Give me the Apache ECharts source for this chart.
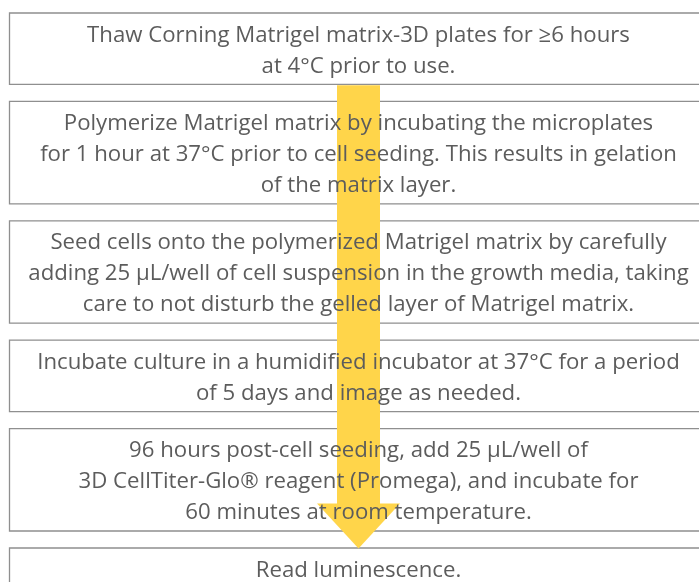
<!DOCTYPE html>
<html>
<head>
<meta charset="utf-8">
<script src="https://cdn.jsdelivr.net/npm/echarts@6/dist/echarts.min.js"></script>
<style>
html,body{margin:0;padding:0;background:#fff;}
#chart{width:699px;height:582px;}
</style>
</head>
<body>
<div id="chart"></div>
<script>
// Step texts of the workflow (one entry per box, lines separated by \n)
const steps = [
  "Thaw Corning Matrigel matrix-3D plates for \u22656 hours\nat 4\u00b0C prior to use.",
  "Polymerize Matrigel matrix by incubating the microplates\nfor 1 hour at 37\u00b0C prior to cell seeding. This results in gelation\nof the matrix layer.",
  "Seed cells onto the polymerized Matrigel matrix by carefully\nadding 25 \u03bcL/well of cell suspension in the growth media, taking\ncare to not disturb the gelled layer of Matrigel matrix.",
  "Incubate culture in a humidified incubator at 37\u00b0C for a period\nof 5 days and image as needed.",
  "96 hours post-cell seeding, add 25 \u03bcL/well of\n3D CellTiter-Glo\u00ae reagent (Promega), and incubate for\n60 minutes at room temperature.",
  "Read luminescence."
];

// layout constants
const W = 699, H = 582;
const LINE_H = 31, PAD = 4.7, GAP = 17, TOP0 = 13, TEXT_SHIFT = 2;
const BOX_L = 9.5, BOX_R = 706.5, CX = 358.5;
const FONT = '22.2px "Open Sans", sans-serif';
const TEXT_COLOR = '#5c5c5c';
const BORDER = '#8f8f8f';
const ARROW = '#FFD54A';

// derive box extents from line counts
const boxes = [];
let y = TOP0;
steps.forEach((t, i) => {
  const n = t.split('\n').length;
  const h = n * LINE_H + 2 * PAD;
  boxes.push([i, y, y + h, n]);
  y += h + GAP;
});
const arrowData = [[boxes[0][2], boxes[boxes.length - 1][1]]];

const chart = echarts.init(document.getElementById('chart'), null, {renderer: 'canvas'});
chart.setOption({
  animation: false,
  backgroundColor: '#fff',
  grid: {left: 0, right: 0, top: 0, bottom: 0},
  xAxis: {type: 'value', min: 0, max: W, show: false},
  yAxis: {type: 'value', min: 0, max: H, inverse: true, show: false},
  series: [
    {
      type: 'custom', z: 1, clip: false,
      data: boxes,
      renderItem: function (params, api) {
        const p1 = api.coord([BOX_L, api.value(1)]);
        const p2 = api.coord([BOX_R, api.value(2)]);
        return {
          type: 'rect',
          shape: {x: p1[0], y: p1[1], width: p2[0] - p1[0], height: p2[1] - p1[1]},
          style: {fill: '#fff', stroke: BORDER, lineWidth: 1.3}
        };
      }
    },
    {
      type: 'custom', z: 2, clip: false,
      data: arrowData,
      renderItem: function (params, api) {
        const top = api.coord([CX, api.value(0) + 0.8]);
        const tip = api.coord([CX, api.value(1) + 0.5]);
        const shaftHalf = 21.5, headHalf = 41.5, headLen = 45;
        const x = top[0];
        const hb = tip[1] - headLen;
        return {
          type: 'group',
          children: [
            {type: 'rect', shape: {x: x - shaftHalf, y: top[1], width: 2 * shaftHalf, height: hb - top[1] + 0.5},
             style: {fill: ARROW}},
            {type: 'polygon', shape: {points: [[x - headHalf, hb], [x + headHalf, hb], [x, tip[1]]]},
             style: {fill: ARROW}}
          ]
        };
      }
    },
    {
      type: 'custom', z: 3, clip: false,
      data: boxes,
      renderItem: function (params, api) {
        const i = api.value(0);
        const p = api.coord([CX, api.value(1) + PAD + TEXT_SHIFT]);
        return {
          type: 'text',
          style: {
            text: steps[i], x: p[0], y: p[1],
            align: 'center', verticalAlign: 'top',
            font: FONT, lineHeight: LINE_H, fill: TEXT_COLOR
          }
        };
      }
    }
  ]
});
</script>
</body>
</html>
